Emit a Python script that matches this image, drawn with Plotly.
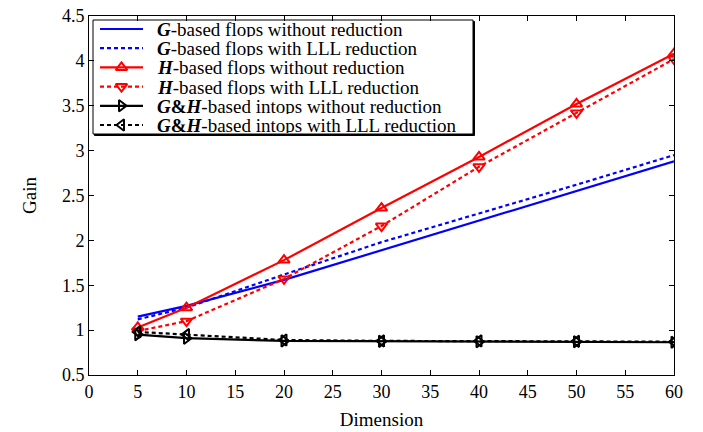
import plotly.graph_objects as go

dims = [5, 10, 20, 30, 40, 50, 60]
g_no = [1.15, 1.27, 1.56, 1.89, 2.22, 2.55, 2.88]
g_lll = [1.12, 1.25, 1.62, 1.98, 2.30, 2.62, 2.95]
h_no = [1.03, 1.25, 1.78, 2.36, 2.93, 3.52, 4.08]
h_lll = [0.99, 1.10, 1.57, 2.16, 2.82, 3.42, 4.02]
gh_no = [0.95, 0.91, 0.88, 0.875, 0.87, 0.87, 0.865]
gh_lll = [0.98, 0.95, 0.89, 0.88, 0.88, 0.875, 0.87]

names = [
    "<b><i>G</i></b>-based flops without reduction",
    "<b><i>G</i></b>-based flops with LLL reduction",
    "<b><i>H</i></b>-based flops without reduction",
    "<b><i>H</i></b>-based flops with LLL reduction",
    "<b><i>G</i>&amp;<i>H</i></b>-based intops without reduction",
    "<b><i>G</i>&amp;<i>H</i></b>-based intops with LLL reduction",
]

series = [g_no, g_lll, h_no, h_lll, gh_no, gh_lll]
colors = ["#0000ff", "#0000ff", "#ff0000", "#ff0000", "#000000", "#000000"]
dashes = ["solid", "4px,3px", "solid", "4px,3px", "solid", "4px,3px"]
symbols = [None, None, "triangle-up-open", "triangle-down-open", "triangle-right-open", "triangle-left-open"]

FONT = "Liberation Serif"
W, H = 703, 432
ML, MR, MT, MB = 89, 29, 16, 57
PW, PH = W - ML - MR, H - MT - MB


def px2x(px):
    return (px - ML) / PW


def px2y(py):
    return (H - MB - py) / PH


fig = go.Figure()

# manual legend (box, samples, labels)
box_l, box_r, box_t, box_b = 93, 473, 20, 134
fig.add_shape(type="rect", xref="paper", yref="paper",
              x0=px2x(box_l + 1.5), x1=px2x(box_r + 1.5), y0=px2y(box_b + 1.5), y1=px2y(box_t + 1.5),
              line=dict(color="black", width=1), fillcolor="black", layer="below")
fig.add_shape(type="rect", xref="paper", yref="paper",
              x0=px2x(box_l), x1=px2x(box_r), y0=px2y(box_b), y1=px2y(box_t),
              line=dict(color="black", width=1), fillcolor="white", layer="below")

for ys, nm, c, d, s in zip(series, names, colors, dashes, symbols):
    kw = dict(mode="lines")
    if s:
        kw = dict(mode="lines+markers",
                  marker=dict(symbol=s, size=10, color=c, line=dict(width=2, color=c)))
    fig.add_trace(go.Scatter(x=dims, y=ys, name=nm, showlegend=False,
                             line=dict(color=c, width=2.2, dash=d), **kw))

row0, rowh = 29, 19.2
s_l, s_r, t_l = 100, 143, 156
for i, (nm, c, d, s) in enumerate(zip(names, colors, dashes, symbols)):
    yy = px2y(row0 + rowh * i)
    fig.add_trace(go.Scatter(
        x=[px2x(s_l), px2x(s_r)], y=[yy, yy], xaxis="x2", yaxis="y2",
        mode="lines", line=dict(color=c, width=2.2, dash=d), showlegend=False, hoverinfo="skip"))
    if s:
        fig.add_trace(go.Scatter(
            x=[px2x((s_l + s_r) / 2)], y=[yy], xaxis="x2", yaxis="y2", mode="markers",
            marker=dict(symbol=s, size=10, color=c, line=dict(width=2, color=c)),
            showlegend=False, hoverinfo="skip"))
    fig.add_annotation(x=px2x(t_l), y=yy, xref="paper", yref="paper", text=nm,
                       showarrow=False, xanchor="left", yanchor="middle",
                       height=16, borderpad=0,
                       font=dict(family=FONT, size=19, color="black"))

axis_common = dict(
    showline=True, linecolor="black", linewidth=1, mirror="allticks",
    ticks="inside", ticklen=5, tickcolor="black", showgrid=False, zeroline=False,
    automargin=False,
    tickfont=dict(family=FONT, size=18, color="black"),
)
fig.update_xaxes(range=[0, 60], dtick=5,
                 title=dict(text="Dimension", font=dict(family=FONT, size=19, color="black"), standoff=12),
                 **axis_common)
fig.update_yaxes(range=[0.5, 4.5], dtick=0.5,
                 title=dict(text="Gain", font=dict(family=FONT, size=19, color="black"), standoff=20),
                 **axis_common)

fig.update_layout(
    width=W, height=H,
    margin=dict(l=ML, r=MR, t=MT, b=MB, autoexpand=False),
    paper_bgcolor="white", plot_bgcolor="white",
    font=dict(family=FONT, color="black"),
    showlegend=False,
    xaxis2=dict(overlaying="x", range=[0, 1], visible=False, fixedrange=True),
    yaxis2=dict(overlaying="y", range=[0, 1], visible=False, fixedrange=True),
)
fig.write_html("out.html")
